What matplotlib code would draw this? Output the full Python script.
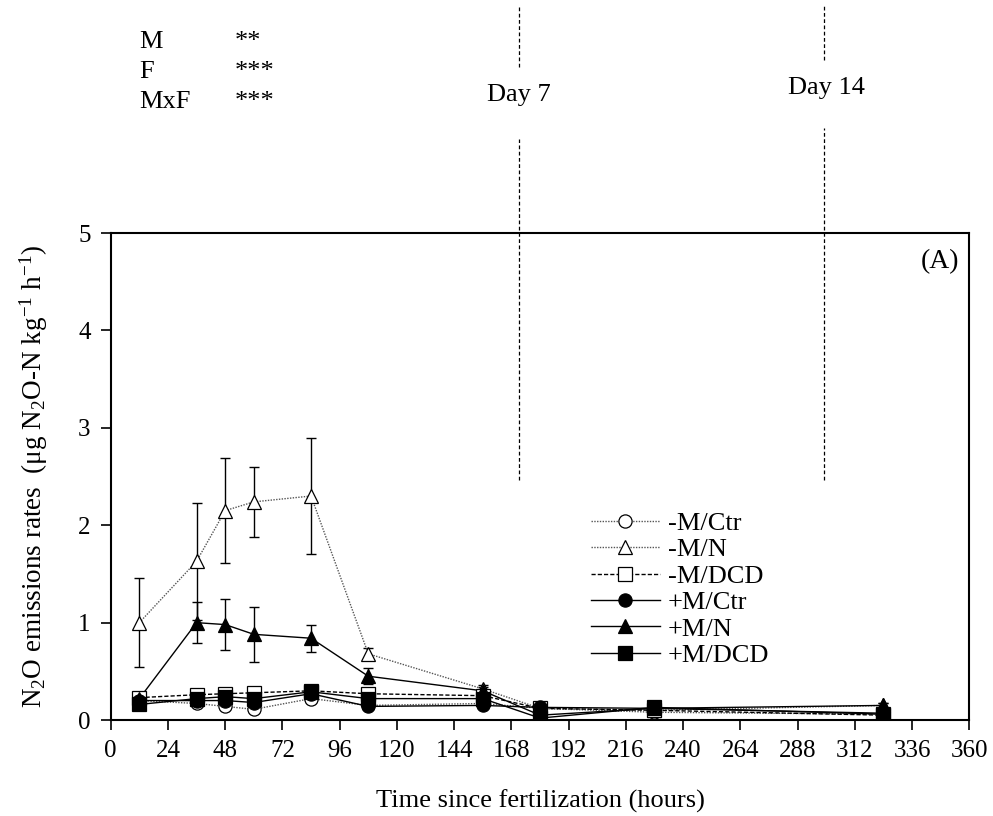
import matplotlib
matplotlib.use("Agg")
import matplotlib.pyplot as plt
from matplotlib.lines import Line2D

plt.rcParams['font.family'] = ['Liberation Serif', 'DejaVu Serif']
plt.rcParams['mathtext.fontset'] = 'custom'
plt.rcParams['mathtext.rm'] = 'Liberation Serif'
plt.rcParams['mathtext.it'] = 'Liberation Serif:italic'

hours = [12, 36, 48, 60, 84, 108, 156, 180, 228, 324]

series_names = ['-M/Ctr', '-M/N', '-M/DCD', '+M/Ctr', '+M/N', '+M/DCD']
m_ctr = [0.20, 0.17, 0.14, 0.11, 0.22, 0.15, 0.17, 0.12, 0.08, 0.06]
m_n = [1.00, 1.63, 2.15, 2.24, 2.30, 0.68, 0.32, 0.12, 0.10, 0.15]
m_dcd = [0.23, 0.26, 0.27, 0.28, 0.30, 0.27, 0.25, 0.12, 0.10, 0.05]
p_ctr = [0.20, 0.20, 0.20, 0.18, 0.27, 0.14, 0.15, 0.13, 0.12, 0.07]
p_n = [0.22, 1.00, 0.98, 0.88, 0.84, 0.45, 0.30, 0.05, 0.12, 0.15]
p_dcd = [0.16, 0.22, 0.24, 0.22, 0.29, 0.22, 0.22, 0.02, 0.13, 0.06]

err_m_ctr = [0.03, 0.03, 0.04, 0.04, 0.04, 0.03, 0.03, 0.02, 0.02, 0.02]
err_m_n = [0.46, 0.60, 0.54, 0.36, 0.60, 0.06, 0.04, 0.02, 0.02, 0.03]
err_m_dcd = [0.03, 0.04, 0.04, 0.04, 0.04, 0.04, 0.03, 0.02, 0.02, 0.02]
err_p_ctr = [0.03, 0.04, 0.04, 0.04, 0.04, 0.03, 0.03, 0.02, 0.02, 0.02]
err_p_n = [0.03, 0.21, 0.26, 0.28, 0.14, 0.08, 0.04, 0.02, 0.02, 0.03]
err_p_dcd = [0.03, 0.04, 0.04, 0.04, 0.04, 0.04, 0.03, 0.02, 0.02, 0.02]

x_ticks = list(range(0, 361, 24))
y_ticks = [0, 1, 2, 3, 4, 5]
day_lines = [171, 299]
day_labels = ['Day 7', 'Day 14']
stats_labels = ['M', 'F', 'MxF']
stats_values = ['**', '***', '***']

fig = plt.figure(figsize=(9.93, 8.16), dpi=100)
ax = fig.add_axes([0.1115, 0.1176, 0.8646, 0.5968])

styles = [
    (m_ctr, err_m_ctr, 'o', 'white', (0, (1, 1)), '#555555'),
    (m_n, err_m_n, '^', 'white', (0, (1, 1)), '#555555'),
    (m_dcd, err_m_dcd, 's', 'white', (0, (3, 1.5)), 'black'),
    (p_ctr, err_p_ctr, 'o', 'black', '-', 'black'),
    (p_n, err_p_n, '^', 'black', '-', 'black'),
    (p_dcd, err_p_dcd, 's', 'black', '-', 'black'),
]

handles = []
for name, (vals, errs, mk, fc, ls, lc) in zip(series_names, styles):
    ax.errorbar(hours, vals, yerr=errs, fmt='none', ecolor='black',
                elinewidth=1.0, capsize=3.5, capthick=1.0, zorder=2)
    ax.plot(hours, vals, linestyle=ls, color=lc, linewidth=1.0, zorder=3)
    ax.plot(hours, vals, linestyle='none', marker=mk, markersize=10 if mk == '^' else 9.5,
            markerfacecolor=fc, markeredgecolor='black', markeredgewidth=0.9, zorder=4)
    handles.append(Line2D([0], [0], linestyle=ls, color=lc, linewidth=1.0, marker=mk,
                          markersize=10 if mk == '^' else 9.5, markerfacecolor=fc,
                          markeredgecolor='black', markeredgewidth=0.9))

ax.set_xlim(0, 360)
ax.set_ylim(0, 5)
ax.set_xticks(x_ticks)
ax.set_yticks(y_ticks)
ax.tick_params(direction='out', length=7.5, width=1.2, labelsize=18, pad=7)
for s in ax.spines.values():
    s.set_linewidth(1.5)

ax.set_xlabel('Time since fertilization (hours)', fontsize=19, labelpad=20)
ax.set_ylabel(r'N$_2$O emissions rates  (μg N$_2$O-N kg$^{-1}$ h$^{-1}$)', fontsize=19.5, labelpad=20)

ax.text(0.988, 0.968, '(A)', transform=ax.transAxes, ha='right', va='top', fontsize=20)

ax.plot([day_lines[0]] * 2, [2.46, 5.97], color='black', linestyle=(0, (3, 2)), linewidth=0.9,
        clip_on=False, zorder=1)
ax.plot([day_lines[0]] * 2, [6.70, 7.34], color='black', linestyle=(0, (3, 2)), linewidth=0.9,
        clip_on=False, zorder=1)
ax.plot([day_lines[1]] * 2, [2.46, 6.08], color='black', linestyle=(0, (3, 2)), linewidth=0.9,
        clip_on=False, zorder=1)
ax.plot([day_lines[1]] * 2, [6.78, 7.34], color='black', linestyle=(0, (3, 2)), linewidth=0.9,
        clip_on=False, zorder=1)
ax.text(day_lines[0], 6.42, day_labels[0], ha='center', va='center', fontsize=19)
ax.text(day_lines[1] + 1, 6.49, day_labels[1], ha='center', va='center', fontsize=19)

for i, (lab, val) in enumerate(zip(stats_labels, stats_values)):
    yy = 1 - (47.5 + i * 30.5) / 816
    fig.text(139 / 993, yy, lab, ha='left', va='baseline', fontsize=19)
    fig.text(235 / 993, yy, val, ha='left', va='baseline', fontsize=19)

leg = ax.legend(handles, series_names, loc='upper left', bbox_to_anchor=(0.5594, 0.428),
                frameon=False, fontsize=19, handlelength=2.6, handletextpad=0.3,
                labelspacing=0.11, borderpad=0.0, borderaxespad=0.0)

fig.savefig('out.png', dpi=100)
